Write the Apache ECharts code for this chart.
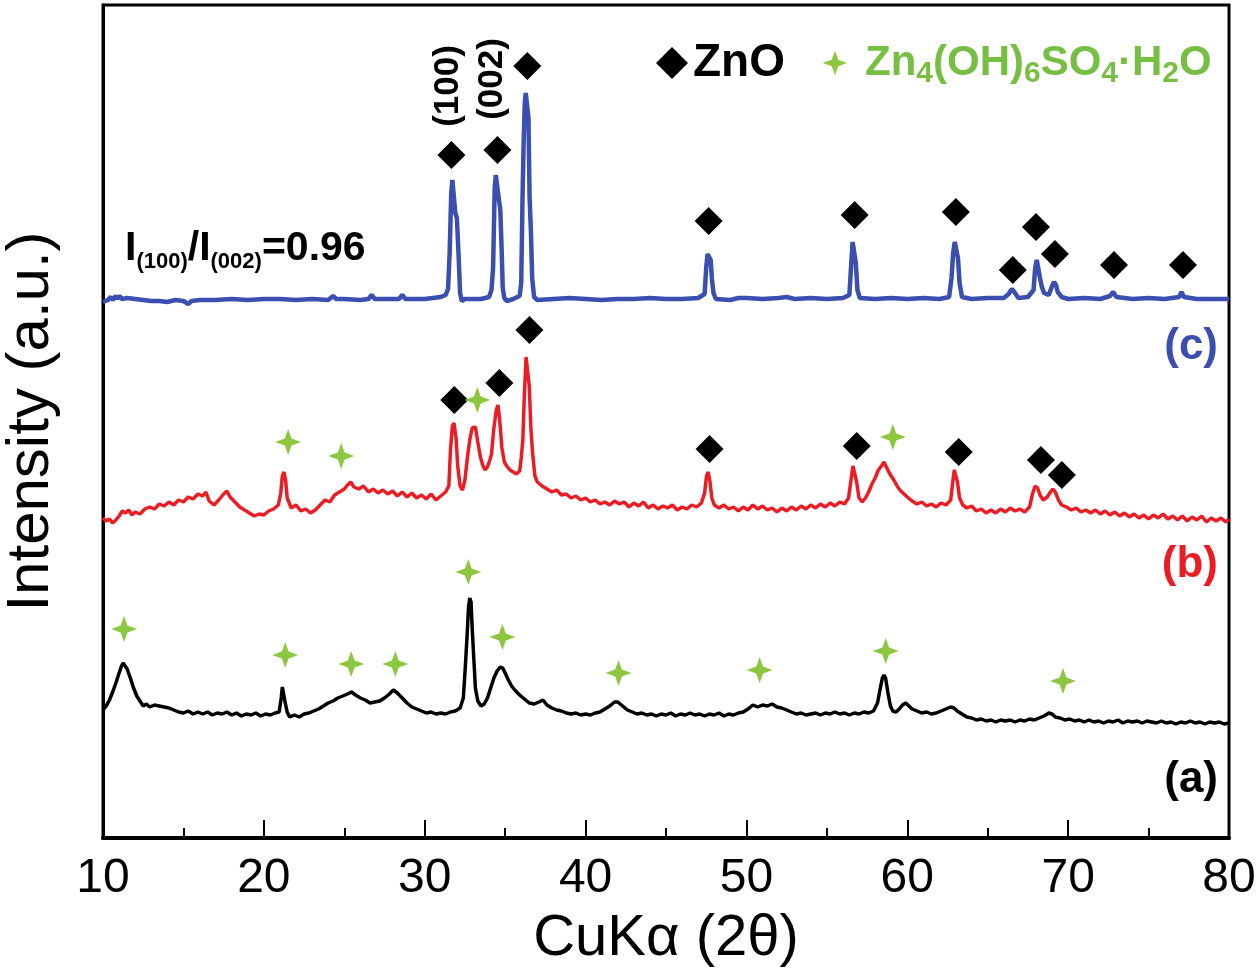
<!DOCTYPE html>
<html><head><meta charset="utf-8">
<script src="https://cdn.jsdelivr.net/npm/echarts@6/dist/echarts.min.js"></script>
<style>html,body{margin:0;padding:0;background:#fff}#c{width:1260px;height:973px}</style>
</head><body><div id="c"></div>
<script>
// ---- data: [2θ (deg), intensity (a.u.)] ----
const patternA = [[10.0,128],[10.2,132],[10.4,138],[10.6,146],[10.8,155],[11.0,165],[11.15,172],[11.25,175],[11.35,174],[11.5,169],[11.7,160],[11.9,150],[12.1,142],[12.3,137],[12.5,132],[12.7,134],[12.9,131],[13.2,133],[13.5,132],[13.8,131],[14.1,130],[14.4,128],[14.7,126],[15.0,125],[15.3,127],[15.6,124],[15.9,126],[16.2,124],[16.5,126],[16.8,123],[17.1,125],[17.4,124],[17.7,126],[18.0,123],[18.3,125],[18.6,122],[18.9,124],[19.2,123],[19.5,125],[19.8,122],[20.1,124],[20.4,123],[20.7,125],[20.95,126],[21.08,140],[21.15,151],[21.25,149],[21.33,135],[21.45,126],[21.6,121],[21.9,123],[22.2,121],[22.5,124],[22.8,125],[23.1,127],[23.4,129],[23.7,132],[24.0,135],[24.3,137],[24.6,140],[24.9,142],[25.2,144],[25.45,146],[25.7,143],[26.0,140],[26.3,138],[26.6,135],[26.9,136],[27.2,137],[27.5,140],[27.8,144],[28.05,148],[28.3,145],[28.6,140],[28.9,135],[29.2,131],[29.5,129],[29.8,127],[30.1,125],[30.4,126],[30.7,124],[31.0,125],[31.3,124],[31.6,126],[31.9,127],[32.2,130],[32.4,140],[32.52,170],[32.62,198],[32.72,230],[32.8,240],[32.88,236],[32.95,210],[33.05,180],[33.15,150],[33.3,137],[33.5,132],[33.7,134],[33.9,140],[34.1,150],[34.3,160],[34.5,167],[34.7,171],[34.85,170],[35.0,165],[35.2,158],[35.4,152],[35.6,148],[35.9,143],[36.2,139],[36.5,135],[36.8,134],[37.1,136],[37.35,138],[37.6,133],[37.9,130],[38.2,128],[38.5,127],[38.8,125],[39.1,124],[39.4,125],[39.7,123],[40.0,124],[40.3,123],[40.6,125],[40.9,126],[41.2,129],[41.5,132],[41.8,136],[42.0,136],[42.3,132],[42.6,128],[42.9,126],[43.2,124],[43.5,125],[43.8,123],[44.1,124],[44.4,122],[44.7,124],[45.0,123],[45.3,125],[45.6,122],[45.9,124],[46.2,123],[46.5,125],[46.8,123],[47.1,124],[47.4,122],[47.7,124],[48.0,123],[48.3,125],[48.6,122],[48.9,124],[49.2,123],[49.5,125],[49.8,126],[50.1,129],[50.4,133],[50.7,131],[51.0,133],[51.3,132],[51.6,134],[51.9,131],[52.2,130],[52.5,128],[52.8,126],[53.1,124],[53.4,125],[53.7,123],[54.0,124],[54.3,125],[54.6,123],[54.9,125],[55.2,124],[55.5,126],[55.8,124],[56.1,125],[56.4,123],[56.7,125],[57.0,124],[57.3,126],[57.6,125],[57.9,127],[58.15,135],[58.3,148],[58.45,160],[58.55,163],[58.65,160],[58.8,145],[58.95,132],[59.1,127],[59.3,126],[59.5,129],[59.7,133],[59.9,135],[60.1,132],[60.3,129],[60.6,127],[60.9,125],[61.2,126],[61.5,124],[61.8,125],[62.1,127],[62.4,129],[62.7,131],[62.9,130],[63.1,127],[63.4,124],[63.7,121],[64.0,120],[64.3,118],[64.6,119],[64.9,117],[65.2,118],[65.5,116],[65.8,118],[66.1,117],[66.4,118],[66.7,116],[67.0,118],[67.3,117],[67.6,119],[67.9,118],[68.2,120],[68.5,122],[68.8,125],[69.0,124],[69.2,121],[69.5,120],[69.8,118],[70.1,119],[70.4,117],[70.7,118],[71.0,116],[71.3,118],[71.6,116],[71.9,117],[72.2,115],[72.5,117],[72.8,116],[73.1,118],[73.4,115],[73.7,117],[74.0,116],[74.3,117],[74.6,115],[74.9,117],[75.2,116],[75.5,115],[75.8,117],[76.1,115],[76.4,116],[76.7,114],[77.0,116],[77.3,115],[77.6,117],[77.9,115],[78.2,116],[78.5,114],[78.8,116],[79.1,115],[79.4,116],[79.7,114],[80.0,115]];

const patternB = [[10.0,320],[10.2,317],[10.4,319],[10.6,315],[10.8,318],[11.0,322],[11.2,327],[11.4,325],[11.6,328],[11.8,323],[12.0,326],[12.3,324],[12.6,329],[12.9,331],[13.2,329],[13.5,334],[13.8,332],[14.1,336],[14.4,333],[14.7,338],[15.0,336],[15.3,341],[15.6,339],[15.9,344],[16.2,342],[16.4,346],[16.6,337],[16.9,333],[17.2,338],[17.5,344],[17.7,347],[17.9,341],[18.2,336],[18.5,331],[18.8,328],[19.1,325],[19.4,322],[19.7,324],[20.0,323],[20.3,327],[20.6,329],[20.9,333],[21.05,345],[21.15,362],[21.25,366],[21.35,358],[21.45,340],[21.7,330],[22.0,333],[22.3,327],[22.6,329],[22.9,325],[23.2,328],[23.5,333],[23.8,338],[24.1,336],[24.4,343],[24.7,346],[25.0,349],[25.2,353],[25.4,356],[25.6,351],[25.9,349],[26.2,352],[26.5,346],[26.8,349],[27.1,345],[27.4,348],[27.7,344],[28.0,347],[28.3,342],[28.6,346],[28.9,341],[29.2,345],[29.5,340],[29.8,343],[30.1,339],[30.4,344],[30.7,338],[31.0,342],[31.3,346],[31.5,352],[31.6,388],[31.72,412],[31.82,415],[31.95,400],[32.05,372],[32.2,352],[32.35,348],[32.5,358],[32.65,380],[32.8,398],[32.95,410],[33.05,408],[33.15,411],[33.3,396],[33.45,382],[33.6,373],[33.75,368],[33.9,371],[34.05,378],[34.15,384],[34.3,410],[34.45,428],[34.55,433],[34.65,420],[34.8,390],[34.95,376],[35.1,372],[35.3,368],[35.5,366],[35.7,364],[35.9,367],[36.0,380],[36.1,398],[36.2,445],[36.3,481],[36.42,481],[36.5,452],[36.6,410],[36.7,386],[36.85,362],[37.0,356],[37.3,352],[37.6,349],[37.9,346],[38.2,348],[38.5,343],[38.8,344],[39.1,340],[39.4,342],[39.7,338],[40.0,340],[40.3,336],[40.6,338],[40.9,334],[41.2,336],[41.5,333],[41.8,337],[42.1,334],[42.4,336],[42.7,331],[43.0,335],[43.3,332],[43.6,336],[43.9,330],[44.2,333],[44.5,329],[44.8,332],[45.1,330],[45.4,333],[45.7,328],[46.0,331],[46.3,329],[46.6,333],[46.9,331],[47.2,335],[47.4,345],[47.52,362],[47.62,366],[47.72,358],[47.85,340],[48.0,333],[48.3,330],[48.6,333],[48.9,329],[49.2,331],[49.5,327],[49.8,331],[50.1,328],[50.4,333],[50.7,329],[51.0,332],[51.3,328],[51.6,330],[51.9,326],[52.2,330],[52.5,327],[52.8,331],[53.1,328],[53.4,332],[53.7,329],[54.0,333],[54.3,330],[54.6,334],[54.9,331],[55.2,335],[55.5,332],[55.8,336],[56.1,334],[56.35,340],[56.5,358],[56.62,372],[56.72,373],[56.85,356],[57.0,340],[57.2,336],[57.4,340],[57.6,346],[57.8,354],[58.0,360],[58.2,368],[58.4,372],[58.55,376],[58.7,371],[58.85,366],[59.0,362],[59.2,357],[59.4,351],[59.6,347],[59.8,344],[60.0,341],[60.3,337],[60.6,334],[60.9,336],[61.2,332],[61.5,334],[61.8,331],[62.1,335],[62.4,333],[62.7,338],[62.82,355],[62.92,368],[63.02,368],[63.12,356],[63.25,340],[63.45,333],[63.7,330],[64.0,332],[64.3,327],[64.6,329],[64.9,325],[65.2,328],[65.5,325],[65.8,329],[66.1,326],[66.4,330],[66.7,327],[67.0,329],[67.3,326],[67.6,331],[67.8,345],[67.95,352],[68.1,350],[68.25,343],[68.45,338],[68.7,341],[68.9,346],[69.05,349],[69.2,346],[69.4,338],[69.6,333],[69.9,331],[70.2,328],[70.5,330],[70.8,326],[71.1,328],[71.4,325],[71.7,328],[72.0,324],[72.3,327],[72.6,323],[72.9,326],[73.2,322],[73.5,325],[73.8,321],[74.1,324],[74.4,320],[74.7,323],[75.0,319],[75.3,323],[75.6,320],[75.9,324],[76.2,319],[76.5,322],[76.8,318],[77.1,322],[77.4,317],[77.7,321],[78.0,318],[78.3,322],[78.6,316],[78.9,320],[79.2,317],[79.5,320],[79.8,316],[80.0,319]];

const patternC = [[10.0,536],[10.3,538],[10.5,541],[10.6,538],[10.8,542],[10.9,539],[11.0,542],[11.2,539],[11.5,540],[12.0,539],[12.5,538],[13.0,537],[13.5,537],[14.0,536],[14.5,538],[15.0,537],[15.3,534],[15.5,537],[16,538],[17,538],[18,539],[19,538],[20,539],[21,539],[22,538],[23,539],[24,538],[24.3,542],[24.5,539],[25,539],[26,538],[26.5,539],[26.7,543],[26.9,539],[27.5,539],[28,539],[28.4,539],[28.6,543],[28.8,539],[30,539],[30.5,540],[31.0,541],[31.3,543],[31.45,549],[31.55,585],[31.65,645],[31.72,658],[31.82,657],[31.9,625],[32.0,620],[32.1,585],[32.2,545],[32.3,537],[32.5,539],[33,539],[33.5,539],[34.0,541],[34.15,548],[34.25,570],[34.35,650],[34.42,663],[34.52,662],[34.6,640],[34.7,628],[34.78,590],[34.85,550],[34.95,540],[35.1,537],[35.5,539],[35.9,542],[36.0,555],[36.08,640],[36.15,695],[36.22,735],[36.28,745],[36.38,744],[36.45,720],[36.52,640],[36.6,608],[36.68,560],[36.8,541],[37,538],[38,539],[39,540],[40,539],[41,538],[42,539],[43,539],[44,540],[45,539],[46,539],[47,540],[47.4,544],[47.5,570],[47.58,584],[47.7,584],[47.78,578],[47.85,560],[47.95,545],[48.1,539],[49,538],[49.5,540],[50,540],[51,539],[52,540],[52.5,541],[53,539],[54,540],[55,539],[56,540],[56.4,543],[56.52,575],[56.6,596],[56.72,596],[56.8,575],[56.9,548],[57.05,540],[58,539],[59,540],[60,539],[61,540],[62,539],[62.6,541],[62.75,560],[62.85,585],[62.95,596],[63.05,596],[63.15,580],[63.25,555],[63.4,541],[64,539],[65,540],[66,540],[66.3,544],[66.5,549],[66.7,545],[66.9,540],[67.5,541],[67.85,548],[67.95,570],[68.05,578],[68.15,576],[68.25,560],[68.35,552],[68.5,545],[68.8,543],[69.0,552],[69.12,556],[69.25,553],[69.35,546],[69.6,541],[70,539],[71,540],[72,539],[72.6,542],[72.8,546],[73.0,541],[74,539],[75,540],[76,539],[76.9,541],[77.05,546],[77.2,541],[78,539],[79,539],[80,539]];

// reflection markers [2θ, marker height]
const znoMarksC = [[31.66,683],[34.52,688],[36.38,772],[47.65,617],[56.73,623],[63.02,626],[66.56,568],[68.0,611],[69.18,584],[72.85,573],[77.14,573]];
const znoMarksB = [[31.84,438],[34.64,455],[36.51,508],[47.71,389],[56.86,392],[63.2,386],[68.31,378],[69.61,363]];
const hydMarksB = [[21.51,396],[24.81,382],[33.27,438],[59.1,401]];
const hydMarksA = [[11.31,209],[21.33,183],[25.43,174],[28.17,174],[32.71,266],[34.83,201],[42.05,165],[50.82,168],[58.66,187],[69.68,157]];

const xMin = 10, xMax = 80, xStep = 10;
const yMin = 0, yMax = 833;
const seriesLabels = ['(a)', '(b)', '(c)'];
const ZNO = 'ZnO';
const HYD = 'Zn4(OH)6SO4·H2O';

const F = "'Liberation Sans', Arial, Helvetica, sans-serif";
const BLUE = '#3b4fb0', RED = '#ec1c24', GREEN = '#8dc63f', GREEN_T = '#77bf43';
const STAR = 'path://M0,-10L2.6,-2.6L10,0L2.6,2.6L0,10L-2.6,2.6L-10,0L-2.6,-2.6Z';
const STAR_LEG = 'path://M-13,-13M0,-10L2.6,-2.6L10,0L2.6,2.6L0,10L-2.6,2.6L-10,0L-2.6,-2.6ZM13,13';

const chart = echarts.init(document.getElementById('c'), null, {renderer: 'canvas'});
chart.setOption({
  animation: false,
  backgroundColor: '#fff',
  grid: {left: 103, right: 31, top: 5, bottom: 135, show: true, borderColor: '#000', borderWidth: 3, containLabel: false, outerBoundsMode: 'none'},
  xAxis: {
    type: 'value', min: xMin, max: xMax, interval: xStep,
    name: 'CuKα (2θ)', nameLocation: 'middle', nameGap: 72,
    nameTextStyle: {fontFamily: F, fontSize: 58, color: '#000'},
    axisLine: {show: true, lineStyle: {color: '#000', width: 4}},
    axisTick: {show: true, inside: true, length: 18, lineStyle: {color: '#000', width: 2}},
    minorTick: {show: true, splitNumber: 2, length: 10, lineStyle: {color: '#000', width: 2}},
    axisLabel: {fontFamily: F, fontSize: 48, color: '#000', margin: 17},
    splitLine: {show: false}
  },
  yAxis: {
    type: 'value', min: yMin, max: yMax,
    name: 'Intensity (a.u.)', nameLocation: 'middle', nameRotate: 90, nameGap: 42,
    nameTextStyle: {fontFamily: F, fontSize: 60, color: '#000'},
    axisLine: {show: true, lineStyle: {color: '#000', width: 3}},
    axisTick: {show: false}, axisLabel: {show: false}, splitLine: {show: false}
  },
  legend: {
    left: 656, top: 40, padding: 0, itemWidth: 32, itemHeight: 32, itemGap: 34,
    selectedMode: false,
    data: [
      {name: ZNO, icon: 'diamond', itemStyle: {color: '#000', opacity: 1}},
      {name: HYD, icon: STAR_LEG, itemStyle: {color: GREEN, opacity: 1}}
    ],
    formatter: n => n === ZNO ? '{k|ZnO}' : '{g0|Zn}{s|4}{g|(OH)}{s|6}{g|SO}{s|4}{g|·H}{s|2}{g|O}',
    textStyle: {
      fontFamily: F,
      rich: {
        k: {fontFamily: F, fontSize: 46, fontWeight: 'bold', color: '#000', lineHeight: 52},
        g0: {fontFamily: F, fontSize: 42, fontWeight: 'bold', color: GREEN_T, lineHeight: 52, padding: [0, 0, 0, 9]},
        g: {fontFamily: F, fontSize: 42, fontWeight: 'bold', color: GREEN_T, lineHeight: 52},
        s: {fontFamily: F, fontSize: 30, fontWeight: 'bold', color: GREEN_T, lineHeight: 10, verticalAlign: 'bottom'}
      }
    }
  },
  series: [
    {type: 'line', name: seriesLabels[0], data: patternA, showSymbol: false, symbol: 'none', lineStyle: {color: '#000', width: 3.5}, itemStyle: {color: '#000'}, z: 2},
    {type: 'line', name: seriesLabels[1], data: patternB, showSymbol: false, symbol: 'none', lineStyle: {color: RED, width: 3.5}, itemStyle: {color: RED}, z: 2},
    {type: 'line', name: seriesLabels[2], data: patternC, showSymbol: false, symbol: 'none', lineStyle: {color: BLUE, width: 4.5}, itemStyle: {color: BLUE}, z: 2},
    {type: 'scatter', name: ZNO, data: znoMarksC, symbol: 'diamond', symbolSize: 28, itemStyle: {color: '#000', opacity: 1}, z: 3},
    {type: 'scatter', name: ZNO, data: znoMarksB, symbol: 'diamond', symbolSize: 28, itemStyle: {color: '#000', opacity: 1}, z: 3},
    {type: 'scatter', name: HYD, data: hydMarksB, symbol: STAR, symbolSize: 26, itemStyle: {color: GREEN, opacity: 1}, z: 4},
    {type: 'scatter', name: HYD, data: hydMarksA, symbol: STAR, symbolSize: 26, itemStyle: {color: GREEN, opacity: 1}, z: 4}
  ],
  graphic: [
    {type: 'text', x: 448, y: 86, rotation: Math.PI / 2, style: {text: '(100)', font: 'bold 35px ' + F, fill: '#000', align: 'center', verticalAlign: 'middle'}},
    {type: 'text', x: 492, y: 79, rotation: Math.PI / 2, style: {text: '(002)', font: 'bold 35px ' + F, fill: '#000', align: 'center', verticalAlign: 'middle'}},
    {type: 'text', x: 125, y: 249, style: {
      text: '{m|I}{s|(100)}{m|/I}{s|(002)}{m|=0.96}', align: 'left', verticalAlign: 'middle',
      rich: {
        m: {fontFamily: F, fontSize: 41, fontWeight: 'bold', fill: '#000', lineHeight: 48},
        s: {fontFamily: F, fontSize: 22, fontWeight: 'bold', fill: '#000', lineHeight: 26, verticalAlign: 'bottom'}
      }}},
    {type: 'text', x: 1218, y: 347, style: {text: seriesLabels[2], font: 'bold 44px ' + F, fill: BLUE, align: 'right', verticalAlign: 'middle'}},
    {type: 'text', x: 1218, y: 565, style: {text: seriesLabels[1], font: 'bold 44px ' + F, fill: RED, align: 'right', verticalAlign: 'middle'}},
    {type: 'text', x: 1218, y: 780, style: {text: seriesLabels[0], font: 'bold 44px ' + F, fill: '#000', align: 'right', verticalAlign: 'middle'}}
  ]
});
</script></body></html>
